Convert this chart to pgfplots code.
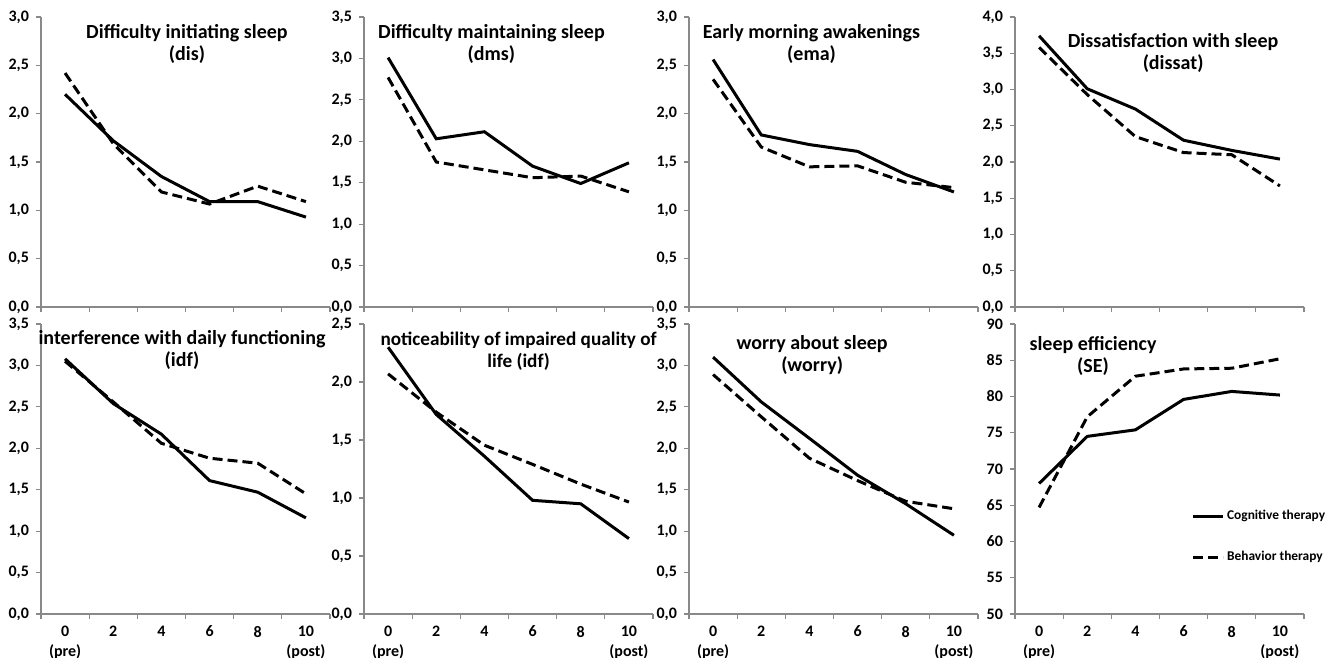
\documentclass[border=0pt]{standalone}
\usepackage{fontspec}
\setmainfont{Carlito}
\usepackage{pgfplots}
\pgfplotsset{compat=1.18}
\definecolor{axgray}{HTML}{898989}
\pgfplotsset{
  panel/.style={
    scale only axis, width=144.5pt, height=145pt,
    axis x line*=bottom, axis y line*=left,
    axis line style={draw=axgray, line width=0.6pt},
    xmin=-1, xmax=11, ymin=0,
    xtick={0,2,4,6,8,10},
    minor xtick={-1,1,3,5,7,9,11},
    major x tick style={draw=none},
    minor x tick style={draw=axgray, line width=0.6pt},
    ytick style={draw=axgray, line width=0.6pt},
    tick align=outside,
    major tick length=2.5pt, minor tick length=2.5pt,
    tick label style={font=\bfseries\fontsize{8}{10}\selectfont},
    /pgf/number format/use comma,
    /pgf/number format/fixed,
    /pgf/number format/fixed zerofill,
    /pgf/number format/precision=1,
    /pgf/number format/assume math mode=true,
    clip=false,
    title style={font=\bfseries\fontsize{10}{11}\selectfont, anchor=north, align=center, inner sep=0pt},
  },
  toprow/.style={panel, xticklabels={,,,,,}},
  botrow/.style={panel, xticklabels={{0\\(pre)},2,4,6,8,{10\\(post)}}, xticklabel style={align=center}},
  cog/.style={black, line width=1.5pt},
  beh/.style={black, line width=1.5pt, dash pattern=on 5pt off 2.5pt},
}
\begin{document}
\begin{tikzpicture}
\useasboundingbox (0,0) rectangle (664pt,329pt);
% P1
\begin{axis}[toprow, at={(20.5pt,175.5pt)}, anchor=south west, ymax=3, ytick={0,0.5,...,3},
  title={Difficulty initiating sleep\\(dis)}, title style={at={(0.505,0.935)}}]
\addplot[cog] coordinates {(0,2.20) (2,1.72) (4,1.35) (6,1.09) (8,1.09) (10,0.93)};
\addplot[beh] coordinates {(0,2.42) (2,1.69) (4,1.19) (6,1.065) (8,1.25) (10,1.09)};
\end{axis}
% P2
\begin{axis}[toprow, at={(182pt,175.5pt)}, anchor=south west, ymax=3.5, ytick={0,0.5,...,3.5},
  title={Difficulty maintaining sleep\\(dms)}, title style={at={(0.441,0.935)}}]
\addplot[cog] coordinates {(0,3.01) (2,2.03) (4,2.115) (6,1.70) (8,1.49) (10,1.74)};
\addplot[beh] coordinates {(0,2.77) (2,1.75) (4,1.655) (6,1.56) (8,1.58) (10,1.39)};
\end{axis}
% P3
\begin{axis}[toprow, at={(344.5pt,175.5pt)}, anchor=south west, ymax=3, ytick={0,0.5,...,3},
  title={Early morning awakenings\\(ema)}, title style={at={(0.424,0.935)}}]
\addplot[cog] coordinates {(0,2.56) (2,1.78) (4,1.68) (6,1.61) (8,1.37) (10,1.19)};
\addplot[beh] coordinates {(0,2.355) (2,1.655) (4,1.45) (6,1.46) (8,1.29) (10,1.235)};
\end{axis}
% P4
\begin{axis}[toprow, at={(507.5pt,175.5pt)}, anchor=south west, ymax=4, ytick={0,0.5,...,4},
  title={Dissatisfaction with sleep\\(dissat)}, title style={at={(0.547,0.905)}}]
\addplot[cog] coordinates {(0,3.74) (2,3.01) (4,2.73) (6,2.30) (8,2.16) (10,2.04)};
\addplot[beh] coordinates {(0,3.58) (2,2.93) (4,2.35) (6,2.13) (8,2.10) (10,1.67)};
\end{axis}
% P5
\begin{axis}[botrow, at={(20.5pt,22pt)}, anchor=south west, ymax=3.5, ytick={0,0.5,...,3.5},
  title={interference with daily functioning\\(idf)}, title style={at={(0.488,0.937)}}]
\addplot[cog] coordinates {(0,3.08) (2,2.54) (4,2.17) (6,1.61) (8,1.47) (10,1.16)};
\addplot[beh] coordinates {(0,3.05) (2,2.56) (4,2.06) (6,1.88) (8,1.82) (10,1.45)};
\end{axis}
% P6
\begin{axis}[botrow, at={(182pt,22pt)}, anchor=south west, ymax=2.5, ytick={0,0.5,...,2.5},
  title={noticeability of impaired quality of\\life (idf)},
  title style={at={(0.535,0.932)}, font=\bfseries\fontsize{9.6}{11}\selectfont}]
\addplot[cog] coordinates {(0,2.30) (2,1.72) (4,1.36) (6,0.98) (8,0.95) (10,0.65)};
\addplot[beh] coordinates {(0,2.07) (2,1.74) (4,1.455) (6,1.29) (8,1.12) (10,0.965)};
\end{axis}
% P7
\begin{axis}[botrow, at={(344.5pt,22pt)}, anchor=south west, ymax=3.5, ytick={0,0.5,...,3.5},
  title={worry about sleep\\(worry)}, title style={at={(0.426,0.922)}}]
\addplot[cog] coordinates {(0,3.10) (2,2.56) (4,2.12) (6,1.675) (8,1.33) (10,0.95)};
\addplot[beh] coordinates {(0,2.89) (2,2.38) (4,1.88) (6,1.61) (8,1.36) (10,1.27)};
\end{axis}
% P8
\begin{axis}[botrow, at={(507.5pt,22pt)}, anchor=south west, ymin=50, ymax=90, ytick={50,55,...,90},
  yticklabel style={/pgf/number format/precision=0},
  title={sleep efficiency\\(SE)}, title style={at={(0.27,0.918)}},
  legend style={at={(0.61,0.265)}, anchor=west, draw=none, fill=none, inner sep=0pt,
    font=\bfseries\fontsize{6.7}{8}\selectfont, row sep=12pt, nodes={inner sep=1.2pt}},
  legend cell align=left,
  legend image code/.code={\draw[#1] (0pt,0pt) -- (15pt,0pt);}]
\addplot[cog] coordinates {(0,68.0) (2,74.5) (4,75.4) (6,79.6) (8,80.7) (10,80.2)};
\addplot[beh] coordinates {(0,64.7) (2,77.2) (4,82.8) (6,83.8) (8,83.9) (10,85.2)};
\legend{Cognitive therapy, Behavior therapy}
\end{axis}
\end{tikzpicture}
\end{document}
